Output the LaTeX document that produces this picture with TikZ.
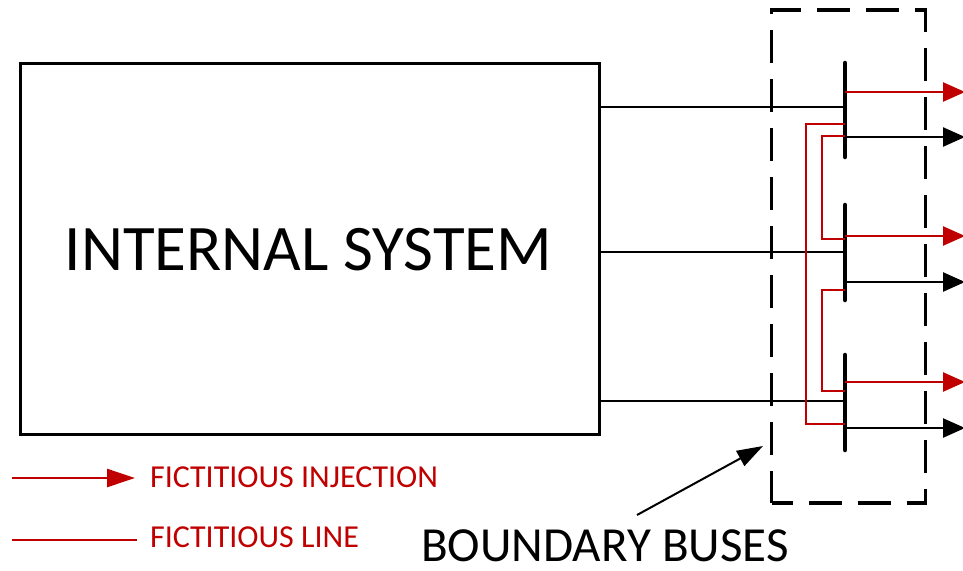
\documentclass[tikz,border=0pt]{standalone}
\usepackage{fontspec}
\setmainfont{Carlito}
\usetikzlibrary{arrows.meta}
\definecolor{fred}{RGB}{192,0,0}
\begin{document}
\begin{tikzpicture}[x=1pt,y=-1pt,
  conn/.style={draw=black,line width=2pt},
  busbar/.style={draw=black,line width=4.5pt,line cap=round},
  injarrow/.style={draw=fred,line width=2.5pt,-{Triangle[length=22pt,width=19pt]}},
  outarrow/.style={draw=black,line width=2.5pt,-{Triangle[length=22pt,width=19pt]}},
  fline/.style={draw=fred,line width=1.6pt},
  lbl/.style={inner sep=0pt,anchor=base west,text depth=0pt}]
\useasboundingbox (0,0) rectangle (963,570);
% internal system
\node[draw=black,line width=3pt,minimum width=579pt,minimum height=371pt,inner sep=0pt] (sys) at (309.5,248.5) {};
\node[inner sep=0pt,anchor=base] (systxt) at (308.5,270) {\fontsize{65}{65}\selectfont INTERNAL SYSTEM};
% boundary dashed box
\node[draw=black,line width=3.5pt,dash pattern=on 33pt off 16pt,dash phase=12pt,minimum width=154pt,minimum height=493pt,inner sep=0pt] (bbox) at (848.5,256.5) {};
% buses
\coordinate (b1t) at (845,63); \coordinate (b1b) at (845,157);
\coordinate (b2t) at (845,205); \coordinate (b2b) at (845,300);
\coordinate (b3t) at (845,355); \coordinate (b3b) at (845,450);
\draw[busbar] (b1t) -- (b1b);
\draw[busbar] (b2t) -- (b2b);
\draw[busbar] (b3t) -- (b3b);
% connections from internal system
\coordinate (c1) at (845,107); \coordinate (c2) at (845,252); \coordinate (c3) at (845,401);
\draw[conn] (sys.east |- c1) -- (c1);
\draw[conn] (sys.east |- c2) -- (c2);
\draw[conn] (sys.east |- c3) -- (c3);
% injections
\coordinate (r1) at (845,92); \coordinate (r1e) at (965,92);
\coordinate (k1) at (845,137); \coordinate (k1e) at (965,137);
\coordinate (r2) at (845,236); \coordinate (r2e) at (965,236);
\coordinate (k2) at (845,282); \coordinate (k2e) at (965,282);
\coordinate (r3) at (845,382); \coordinate (r3e) at (965,382);
\coordinate (k3) at (845,428); \coordinate (k3e) at (965,428);
\draw[injarrow] (r1) -- (r1e);
\draw[outarrow] (k1) -- (k1e);
\draw[injarrow] (r2) -- (r2e);
\draw[outarrow] (k2) -- (k2e);
\draw[injarrow] (r3) -- (r3e);
\draw[outarrow] (k3) -- (k3e);
% fictitious lines
\coordinate (f1a) at (845,124); \coordinate (f1b) at (845,424);
\coordinate (f2a) at (845,136); \coordinate (f2b) at (845,239);
\coordinate (f3a) at (845,290); \coordinate (f3b) at (845,391);
\draw[fline] (f1a) -- (806,124) -- (806,424) -- (f1b);
\draw[fline] (f2a) -- (822,136) -- (822,239) -- (f2b);
\draw[fline] (f3a) -- (822,290) -- (822,391) -- (f3b);
% boundary label
\node[inner sep=0pt,anchor=base,text depth=0pt] (btxt) at (605,561) {\fontsize{49}{49}\selectfont BOUNDARY BUSES};
\coordinate (bpt) at (763,446);
\draw[line width=2pt,-{Triangle[length=26pt,width=17pt]}] (637,515) -- (bpt);
% legend
\coordinate (l1a) at (12,478); \coordinate (l1b) at (135,478);
\coordinate (l2a) at (12,540); \coordinate (l2b) at (137,540);
\draw[draw=fred,line width=2.5pt,-{Triangle[length=28pt,width=18pt]}] (l1a) -- (l1b);
\draw[fline] (l2a) -- (l2b);
\node[lbl,text=fred] (leg1) at (150,487) {\fontsize{32}{32}\selectfont FICTITIOUS INJECTION};
\node[lbl,text=fred] (leg2) at (150,547) {\fontsize{32}{32}\selectfont FICTITIOUS LINE};
\end{tikzpicture}
\end{document}
